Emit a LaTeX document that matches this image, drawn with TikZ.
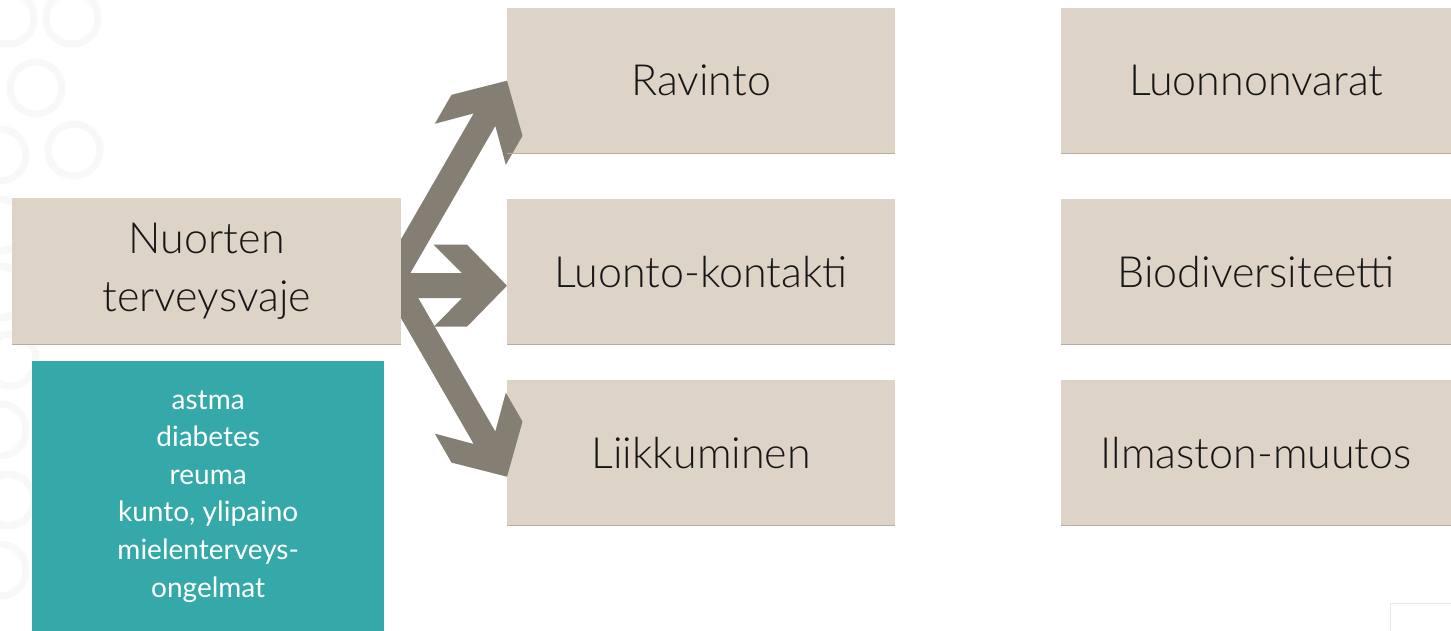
\documentclass[tikz,border=0pt]{standalone}
\usepackage{fontspec}
\setmainfont{Lato}
\newfontfamily\lightfont{Lato Light}
\usetikzlibrary{calc,backgrounds}
\definecolor{beige}{HTML}{DDD3C7}
\definecolor{tealc}{HTML}{35A8A9}
\definecolor{arrowc}{HTML}{857E72}
\definecolor{txtc}{HTML}{161616}
\definecolor{ringc}{HTML}{F8F8F8}
\definecolor{edgec}{HTML}{B4ADA4}
% fat block arrow: tip, angle, length
\newcommand\fatarrow[3]{%
  \fill[arrowc, shift={(#1)}, rotate=#2]
    (0pt,0pt) -- (-40pt,41pt) -- (-73.4pt,41pt) -- (-45pt,12.5pt)
    -- (-#3pt,12.5pt) -- (-#3pt,-12.5pt) -- (-45pt,-12.5pt)
    -- (-73.4pt,-41pt) -- (-40pt,-41pt) -- cycle;}
\begin{document}
\begin{tikzpicture}[x=1pt,y=-1pt,
  catbox/.style={fill=beige, inner sep=0pt, anchor=north west,
    minimum width=388pt, minimum height=145pt, text=txtc, align=center,
    font=\lightfont\fontsize{43}{58}\selectfont},
  listbox/.style={fill=tealc, inner sep=0pt, anchor=north west,
    minimum width=352pt, minimum height=270pt, text=white, align=center,
    font=\fontsize{28}{37.6}\selectfont},
  ring/.style={draw=ringc, line width=7pt}]
\useasboundingbox (0,0) rectangle (1451,631);

\begin{pgfonlayer}{background}
  \fill[white] (0,0) rectangle (1451,631);
  \foreach \p in {(8,18),(72,18),(36,88),(0,155),(74,150),(0,225),(0,292),(10,360),(0,430),(8,500),(0,570)}
    \draw[ring] \p circle[radius=26pt];
\end{pgfonlayer}

\node[catbox] (rav) at (507,8)   {Ravinto};
\node[catbox] (luo) at (507,199) {Luonto-kontakti};
\node[catbox] (lii) at (507,380) {Liikkuminen};

\node[catbox, minimum width=390pt] (lva) at (1061,8)   {Luonnonvarat};
\node[catbox, minimum width=390pt] (bio) at (1061,199) {Biodiversiteetti};
\node[catbox, minimum width=390pt] (ilm) at (1061,380) {Ilmaston-muutos};

\fatarrow{rav.west}{60}{240}
\fatarrow{$(luo.west)+(0,14)$}{0}{120}
\fatarrow{$(lii.west)+(0,24)$}{-60}{240}

\node[catbox, minimum width=389pt, minimum height=146pt] (nuo) at (12,198) {Nuorten\\terveysvaje};
\node[listbox] (lst) at (32,361) {astma\\diabetes\\reuma\\kunto, ylipaino\\mielenterveys-\\ongelmat};

\foreach \n in {nuo,rav,luo,lii,lva,bio,ilm}
  \draw[edgec, line width=1.2pt] (\n.south west) -- (\n.south east);

\coordinate (mk) at (1390,631);
\draw[black!9, line width=1pt] (mk) |- (1451,603);
\end{tikzpicture}
\end{document}
